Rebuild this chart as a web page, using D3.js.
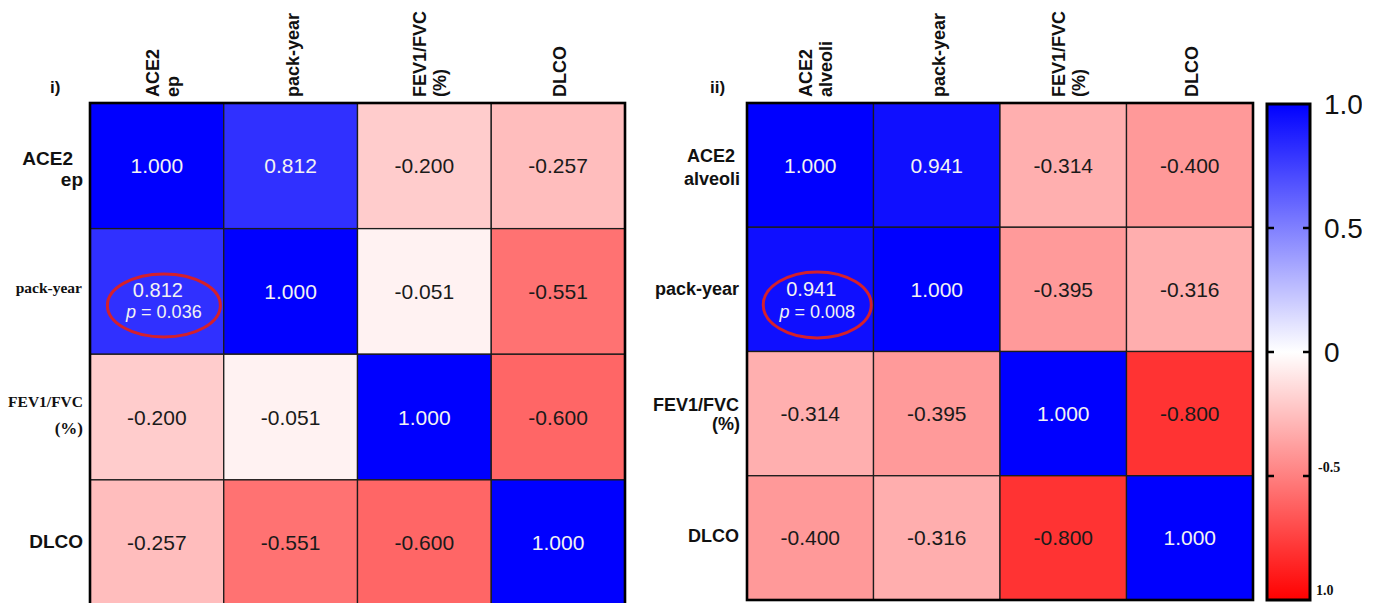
<!DOCTYPE html>
<html>
<head>
<meta charset="utf-8">
<script src="https://cdn.jsdelivr.net/npm/d3@7"></script>
<style>
  html, body { margin: 0; padding: 0; background: #ffffff; }
  svg { display: block; }
</style>
</head>
<body>
<svg id="chart" width="1375" height="603"></svg>
<script>
// ---------------- DATA ----------------
const panelLabels = ["i)", "ii)"];

const varsLeft = ["ACE2\nep", "pack-year", "FEV1/FVC\n(%)", "DLCO"];
const varsRight = ["ACE2\nalveoli", "pack-year", "FEV1/FVC\n(%)", "DLCO"];

const rowAce2Left   = [1.000, 0.812, -0.200, -0.257];
const rowPackLeft   = [0.812, 1.000, -0.051, -0.551];
const rowFevLeft    = [-0.200, -0.051, 1.000, -0.600];
const rowDlcoLeft   = [-0.257, -0.551, -0.600, 1.000];

const rowAce2Right  = [1.000, 0.941, -0.314, -0.400];
const rowPackRight  = [0.941, 1.000, -0.395, -0.316];
const rowFevRight   = [-0.314, -0.395, 1.000, -0.800];
const rowDlcoRight  = [-0.400, -0.316, -0.800, 1.000];

const pValueLeft = "0.036";   // ACE2 ep vs pack-year
const pValueRight = "0.008";  // ACE2 alveoli vs pack-year

const colorDomain = [-1, 0, 1];
const colorRange = ["#ff0000", "#ffffff", "#0000ff"];
const colorbarTicks = [1, 0.5, 0, -0.5, -1];
const colorbarTickLabels = ["1.0", "0.5", "0", "-0.5", "1.0"];

// ---------------- DRAW ----------------
const svg = d3.select("#chart");
const color = d3.scaleLinear().domain(colorDomain).range(colorRange);
const SANS = "'Liberation Sans', Arial, Helvetica, sans-serif";
const SERIF = "'Liberation Serif', 'Times New Roman', serif";
const fmt = v => v.toFixed(3);

function drawPanel(cfg) {
  const { vars, matrix, x0, x1, y0, y1, pValue, panelLabel, labelPos } = cfg;
  const g = svg.append("g");
  const x = d3.scaleBand().domain(d3.range(vars.length)).range([x0, x1]);
  const y = d3.scaleBand().domain(d3.range(vars.length)).range([y0, y1]);

  const cells = [];
  matrix.forEach((row, i) => row.forEach((v, j) => cells.push({ i, j, v })));

  g.selectAll("rect.cell").data(cells).enter().append("rect")
    .attr("class", "cell")
    .attr("x", d => x(d.j)).attr("y", d => y(d.i))
    .attr("width", x.bandwidth()).attr("height", y.bandwidth())
    .attr("fill", d => color(d.v))
    .attr("stroke", "#1c1c1c").attr("stroke-width", 1.3);

  // values
  cells.forEach(d => {
    const cx = x(d.j) + x.bandwidth() / 2;
    const cy = y(d.i) + y.bandwidth() / 2;
    const fill = d.v > 0.5 ? "#f3f3f3" : "#1a1a1a";
    const isSig = d.i === 1 && d.j === 0;
    if (isSig) {
      g.append("text")
        .attr("x", cx + 1).attr("y", cy + 5.5 + cfg.sigDy)
        .attr("text-anchor", "middle").attr("fill", fill)
        .style("font-family", SANS).style("font-size", "20px")
        .text(fmt(d.v));
      const t2 = g.append("text")
        .attr("x", cx + 7).attr("y", cy + 27 + cfg.sigDy)
        .attr("text-anchor", "middle").attr("fill", fill)
        .style("font-family", SANS).style("font-size", "18px");
      t2.append("tspan").style("font-style", "italic").text("p");
      t2.append("tspan").text(" = " + pValue);
      g.append("ellipse")
        .attr("cx", cx + 7).attr("cy", cy + 14 + cfg.sigDy)
        .attr("rx", cfg.ellRx).attr("ry", cfg.ellRy)
        .attr("fill", "none").attr("stroke", "#d4202c").attr("stroke-width", 3);
    } else {
      g.append("text")
        .attr("x", cx).attr("y", cy + 7.5)
        .attr("text-anchor", "middle").attr("fill", fill)
        .style("font-family", SANS).style("font-size", "21px")
        .text(fmt(d.v));
    }
  });

  // outer border
  g.append("rect")
    .attr("x", x0).attr("y", y0).attr("width", x1 - x0).attr("height", y1 - y0)
    .attr("fill", "none").attr("stroke", "#000").attr("stroke-width", 2.6);

  // column labels (rotated)
  vars.forEach((lab, j) => {
    const lines = lab.split("\n");
    const cx = x(j) + x.bandwidth() / 2;
    lines.forEach((ln, k) => {
      const off = lines.length === 1 ? 8 : 2 + k * 20;
      g.append("text")
        .attr("transform", `translate(${cx + off},97) rotate(-90)`)
        .attr("text-anchor", "start").attr("fill", "#111")
        .style("font-family", SANS).style("font-size", "18px").style("font-weight", "bold")
        .text(ln);
    });
  });

  // row labels
  vars.forEach((lab, i) => {
    const lines = lab.split("\n");
    const cy = y(i) + y.bandwidth() / 2;
    const spec = cfg.rowSpec[i];
    lines.forEach((ln, k) => {
      const s = spec[k];
      g.append("text")
        .attr("x", s.x).attr("y", cy + s.dy)
        .attr("text-anchor", "end").attr("fill", "#111")
        .style("font-family", s.serif ? SERIF : SANS)
        .style("font-size", s.size + "px").style("font-weight", "bold")
        .text(ln);
    });
  });

  // panel label
  g.append("text")
    .attr("x", labelPos[0]).attr("y", labelPos[1])
    .attr("fill", "#111")
    .style("font-family", SANS).style("font-size", "17px").style("font-weight", "bold")
    .text(panelLabel);
}

drawPanel({
  vars: varsLeft,
  matrix: [rowAce2Left, rowPackLeft, rowFevLeft, rowDlcoLeft],
  x0: 90, x1: 625, y0: 103, y1: 605.5,
  pValue: pValueLeft, panelLabel: panelLabels[0], labelPos: [50, 93],
  sigDy: 0, ellRx: 56.5, ellRy: 31.5,
  rowSpec: [
    [{ x: 73, dy: -1, size: 19 }, { x: 83, dy: 20, size: 19 }],
    [{ x: 82, dy: 1.5, size: 15.5, serif: true }],
    [{ x: 83, dy: -10.5, size: 15.5, serif: true }, { x: 83, dy: 16.5, size: 17, serif: true }],
    [{ x: 83, dy: 5.5, size: 19 }]
  ]
});

drawPanel({
  vars: varsRight,
  matrix: [rowAce2Right, rowPackRight, rowFevRight, rowDlcoRight],
  x0: 747, x1: 1253, y0: 103, y1: 600,
  pValue: pValueRight, panelLabel: panelLabels[1], labelPos: [710, 93],
  sigDy: 1.5, ellRx: 54, ellRy: 33,
  rowSpec: [
    [{ x: 735, dy: -3.5, size: 18 }, { x: 740, dy: 19.5, size: 18 }],
    [{ x: 739, dy: 5.5, size: 18 }],
    [{ x: 739, dy: -3, size: 18 }, { x: 740, dy: 16, size: 18 }],
    [{ x: 739, dy: 4.5, size: 18 }]
  ]
});

// ---------------- COLORBAR ----------------
const cbX0 = 1267, cbX1 = 1310, cbY0 = 104, cbY1 = 600;
const cbY = d3.scaleLinear().domain([1, -1]).range([cbY0, cbY1]);
const defs = svg.append("defs");
const grad = defs.append("linearGradient").attr("id", "cbgrad")
  .attr("x1", 0).attr("y1", 0).attr("x2", 0).attr("y2", 1);
d3.range(0, 21).forEach(k => {
  const v = 1 - k / 10;
  grad.append("stop").attr("offset", (k / 20 * 100) + "%").attr("stop-color", color(v));
});
defs.append("clipPath").attr("id", "cbclip")
  .append("rect").attr("x", 1240).attr("y", 0).attr("width", 122).attr("height", 603);

svg.append("rect")
  .attr("x", cbX0).attr("y", cbY0).attr("width", cbX1 - cbX0).attr("height", cbY1 - cbY0)
  .attr("fill", "url(#cbgrad)").attr("stroke", "#000").attr("stroke-width", 3);

const cbLabels = svg.append("g").attr("clip-path", "url(#cbclip)");
colorbarTicks.forEach((t, k) => {
  const yy = cbY(t);
  if (t !== 1 && t !== -1) {
    svg.append("line").attr("x1", cbX0).attr("x2", cbX0 + 7).attr("y1", yy).attr("y2", yy)
      .attr("stroke", "#000").attr("stroke-width", 2.5);
    svg.append("line").attr("x1", cbX1 - 7).attr("x2", cbX1).attr("y1", yy).attr("y2", yy)
      .attr("stroke", "#000").attr("stroke-width", 2.5);
  }
  if (t < 0) {
    cbLabels.append("text")
      .attr("x", t === -1 ? 1316 : 1318).attr("y", t === -1 ? 595 : 472)
      .attr("fill", "#111")
      .style("font-family", SERIF).style("font-size", "14px").style("font-weight", "bold")
      .text(colorbarTickLabels[k]);
  } else {
    cbLabels.append("text")
      .attr("x", 1324).attr("y", yy + 10)
      .attr("fill", "#111")
      .style("font-family", SANS).style("font-size", "28px")
      .text(colorbarTickLabels[k]);
  }
});
</script>
</body>
</html>
